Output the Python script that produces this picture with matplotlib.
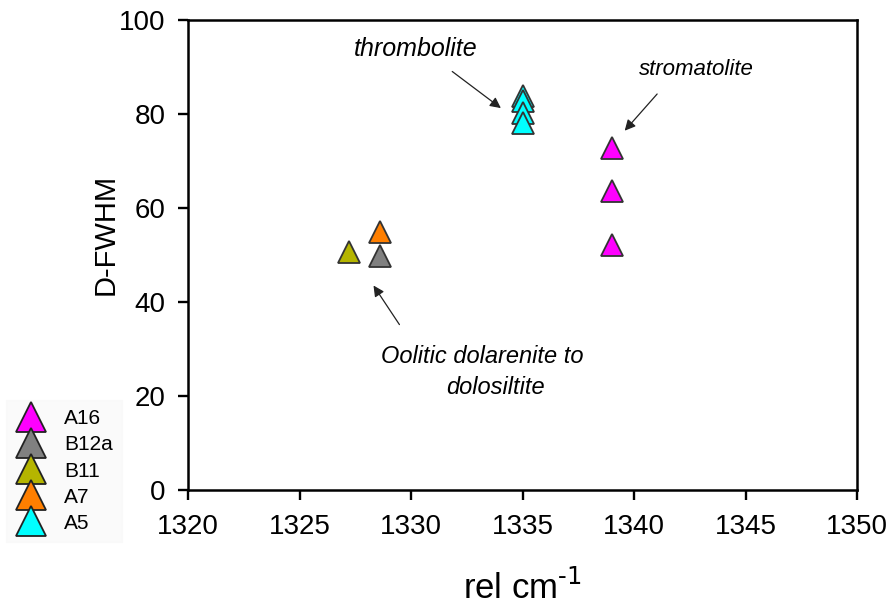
import matplotlib
matplotlib.use("Agg")
import matplotlib.pyplot as plt
from matplotlib.lines import Line2D

plt.rcParams['font.family'] = ['Liberation Sans', 'DejaVu Sans']

samples = ["A16", "B12a", "B11", "A7", "A5"]
colors = ["#ff00ff", "#808080", "#b5b500", "#ff7f00", "#00ffff"]
x_vals = {
    "A16": [1339.0, 1339.0, 1339.0],
    "B12a": [1328.6],
    "B11": [1327.2],
    "A7": [1328.6],
    "A5": [1335.0, 1335.0, 1335.0, 1335.0],
}
y_vals = {
    "A16": [72.7, 63.6, 52.2],
    "B12a": [49.8],
    "B11": [50.6],
    "A7": [54.9],
    "A5": [83.8, 82.8, 80.3, 78.0],
}
xticks = [1320, 1325, 1330, 1335, 1340, 1345, 1350]
yticks = [0, 20, 40, 60, 80, 100]

fig = plt.figure(figsize=(8.96, 6.11), dpi=100)
ax = fig.add_axes([188/896, 1-490/611, (857-188)/896, (490-20)/611])

for s, c in zip(samples, colors):
    ax.plot(x_vals[s], y_vals[s], linestyle='none', marker='^', markersize=16,
            markerfacecolor=c, markeredgecolor='#333333', markeredgewidth=1.3, zorder=3)

ax.set_xlim(1320, 1350)
ax.set_ylim(0, 100)
ax.set_xticks(xticks)
ax.set_yticks(yticks)
ax.tick_params(direction='out', length=7, width=1.7, labelsize=20, colors='black')
ax.tick_params(axis='x', pad=10)
ax.tick_params(axis='y', pad=9)
for sp in ax.spines.values():
    sp.set_linewidth(1.8)
ax.set_xlabel("rel cm$^{\\text{-1}}$", fontsize=25, labelpad=22)
ax.set_ylabel("D-FWHM", fontsize=21)
ax.yaxis.set_label_coords(-0.102, 0.543)

akw = dict(arrowstyle='-|>', color='#222222', lw=0.9, mutation_scale=16)
ax.text(1330.2, 93.8, "thrombolite", fontsize=18, style='italic', ha='center', va='center')
ax.annotate("", xy=(1334.13, 80.9), xytext=(1331.75, 89.4), arrowprops=akw)
ax.text(1342.8, 89.4, "stromatolite", fontsize=16, style='italic', ha='center', va='center')
ax.annotate("", xy=(1339.5, 76.0), xytext=(1341.12, 84.7), arrowprops=akw)
ax.annotate("", xy=(1328.25, 44.0), xytext=(1329.55, 34.7), arrowprops=akw)
ax.text(1333.2, 28.3, "Oolitic dolarenite to", fontsize=17, style='italic',
        ha='center', va='center')
ax.text(1333.8, 21.9, "dolosiltite", fontsize=17, style='italic',
        ha='center', va='center')

handles = [Line2D([], [], linestyle='none', marker='^', markersize=22,
                  markerfacecolor=c, markeredgecolor='#222222', markeredgewidth=1.3)
           for c in colors]
leg = fig.legend(handles, samples, loc='upper left', bbox_to_anchor=(6/896, 1-400/611),
                 frameon=True, fontsize=15, handlelength=1.5, handletextpad=0.85,
                 labelspacing=0.34, borderpad=0.45, borderaxespad=0)
leg.get_frame().set_facecolor('#f9f9f9')
leg.get_frame().set_edgecolor('#f9f9f9')
leg.get_frame().set_boxstyle('square', pad=0)

fig.savefig("out.png", dpi=100)
